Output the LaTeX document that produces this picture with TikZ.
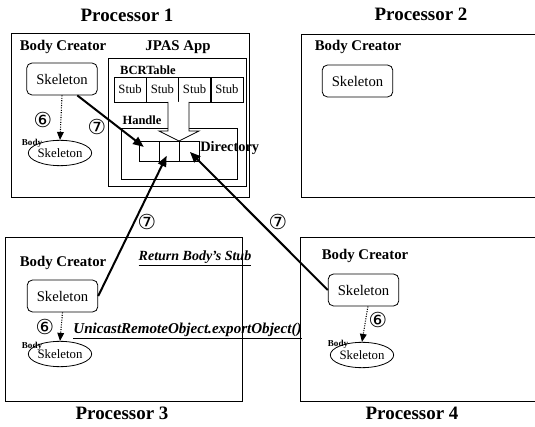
\documentclass[tikz,border=0pt]{standalone}
\usepackage{fontspec}
\setmainfont{Liberation Serif}
\newfontfamily\circfont{DejaVu Sans}
\usetikzlibrary{arrows.meta,shapes.geometric}

\tikzset{
  frame/.style={line width=0.6pt},
  title/.style={font=\fontsize{14.2}{16}\selectfont\bfseries},
  creator/.style={font=\fontsize{11.1}{13}\selectfont\bfseries},
  skel/.style={draw, rounded corners=4pt, minimum width=53pt, minimum height=24pt,
    inner sep=1pt, line width=0.6pt, font=\fontsize{11}{13}\selectfont},
  body/.style={draw, ellipse, minimum width=45pt, minimum height=19pt, inner sep=0pt,
    line width=0.6pt, font=\fontsize{9.6}{11}\selectfont},
  bodylbl/.style={font=\fontsize{6.8}{7}\selectfont\bfseries},
  stubcell/.style={draw, minimum width=24.2pt, minimum height=18.75pt, inner sep=0pt,
    font=\fontsize{9.5}{11}\selectfont},
  dircell/.style={draw, minimum width=15pt, minimum height=15pt, inner sep=0pt},
  lbl/.style={font=\fontsize{9.4}{11}\selectfont\bfseries},
  circnum/.style={font=\circfont\fontsize{15.5}{16}\selectfont, inner sep=0pt},
  link/.style={line width=1.5pt, -{Triangle[length=8pt,width=6.5pt]}},
  birth/.style={densely dotted, line width=0.8pt, -{Triangle[length=6pt,width=5pt]}},
  remark/.style={font=\fontsize{10.5}{12}\selectfont\bfseries\itshape},
}

\begin{document}
\begin{tikzpicture}[x=0.75pt,y=-0.75pt]
  \useasboundingbox (0,0) rectangle (535,427);
  % processor frames
  \draw[frame] (11,33) rectangle (249,197);
  \draw[frame] (301,34) rectangle (545,197);
  \draw[frame] (5,237) rectangle (242,401);
  \draw[frame] (300,237) rectangle (545,401);
  \node[title] (p1) at (127,15) {Processor 1};
  \node[title] (p2) at (421,14) {Processor 2};
  \node[title] (p3) at (122,413) {Processor 3};
  \node[title] (p4) at (412,413) {Processor 4};

  % processor 1
  \node[creator] (bc1) at (63,47) {Body Creator};
  \node[creator] (app) at (178,47) {JPAS App};
  \draw[frame] (108,58) rectangle (246,186);
  \node[lbl] (bcr) at (148,70) {BCRTable};
  \node[stubcell] (stub0) at (130.1,89.5) {Stub};
  \node[stubcell] (stub1) at (162.4,89.5) {Stub};
  \node[stubcell] (stub2) at (194.6,89.5) {Stub};
  \node[stubcell] (stub3) at (226.9,89.5) {Stub};
  \node[lbl] (hdl) at (142,120) {Handle};
  \draw[frame] (121,128) rectangle (237,179);
  \node[dircell] (d1) at (149,151) {};
  \node[dircell] (d2) at (169,151) {};
  \node[dircell] (d3) at (189,151) {};
  \node[font=\fontsize{10.8}{12}\selectfont\bfseries, anchor=west, inner sep=0pt] (dir) at (200,148) {Directory};
  \draw[line width=0.6pt, fill=white] (168,102) -- (168,131) -- (159,131) -- (179,141)
    -- (199,131) -- (189,131) -- (189,102);
  \node[skel] (sk1) at (62,79) {Skeleton};
  \node[body] (b1) at (60,153) {Skeleton};
  \node[bodylbl] (bl1) at (32,143) {Body};
  \node[circnum] (s1) at (43,120) {⑥};
  \node[circnum] (c1) at (97,127) {⑦};
  \draw[birth] (sk1.south) -- (b1.north);

  % processor 2
  \node[creator] (bc2) at (358,47) {Body Creator};
  \node[skel] (sk2) at (357.5,81) {Skeleton};

  % processor 3
  \node[creator] (bc3) at (63,263) {Body Creator};
  \node[skel] (sk3) at (62.5,296) {Skeleton};
  \node[body] (b3) at (60,354) {Skeleton};
  \node[bodylbl] (bl3) at (32,346) {Body};
  \node[circnum] (s3) at (45,327) {⑥};
  \draw[birth] (sk3.south) -- (b3.north);
  \node[remark] (ret) at (195,258) {\underline{Return Body's Stub}};
  \node[remark, font=\fontsize{11.3}{13}\selectfont\bfseries\itshape] (exp) at (187.5,331)
    {\underline{UnicastRemoteObject.exportObject()}};

  % processor 4
  \node[creator] (bc4) at (365,256) {Body Creator};
  \node[skel] (sk4) at (363.5,290) {Skeleton};
  \node[body] (b4) at (362,355) {Skeleton};
  \node[bodylbl] (bl4) at (338,344) {Body};
  \node[circnum] (s4) at (378,320) {⑥};
  \draw[birth] (sk4.-75) -- (b4.north);

  % stubs handed to the directory
  \node[circnum] (c3) at (147,222) {⑦};
  \node[circnum] (c4) at (278,222) {⑦};
  \draw[link, shorten >=5pt] (sk1.-47) -- (d1.center);
  \draw[link, shorten >=4pt] (sk3.east) -- (d2.center);
  \draw[link, shorten >=1pt] (sk4.west) -- (d3.center);
\end{tikzpicture}
\end{document}
